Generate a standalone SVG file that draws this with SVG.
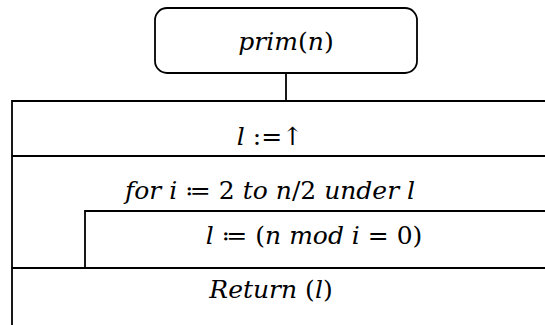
<svg xmlns="http://www.w3.org/2000/svg" width="545" height="325" viewBox="0 0 545 325">
<style>
.ln{fill:none;stroke:#000;stroke-width:1.8}
.t{font-family:"DejaVu Serif","Liberation Serif",serif;font-style:italic;font-size:25px;fill:#000;text-anchor:middle}
.u{font-style:normal}
</style>
<rect width="545" height="325" fill="#fff"/>
<g id="start">
<rect class="ln" x="155" y="8" width="262" height="65" rx="12" ry="12"/>
<text class="t" x="286" y="50">prim<tspan class="u">(</tspan>n<tspan class="u">)</tspan></text>
</g>
<g id="connectors">
<line class="ln" x1="286" y1="73" x2="286" y2="101"/>
</g>
<g id="assign">
<path class="ln" d="M545 101H12V156"/>
<text class="t" x="270" y="145">l <tspan class="u">:=↑</tspan></text>
</g>
<g id="loop">
<path class="ln" d="M545 156H12V211"/>
<text class="t" x="270" y="199">for i <tspan class="u">≔ 2</tspan> to n<tspan class="u">/2</tspan> under l</text>
</g>
<g id="body">
<path class="ln" d="M545 211H85V268M12 211V268"/>
<text class="t" x="314" y="244">l <tspan class="u">≔ (</tspan>n mod i <tspan class="u">= 0)</tspan></text>
</g>
<g id="return">
<path class="ln" d="M545 268H12V325"/>
<text class="t" x="271" y="298">Return <tspan class="u">(</tspan>l<tspan class="u">)</tspan></text>
</g>
</svg>
